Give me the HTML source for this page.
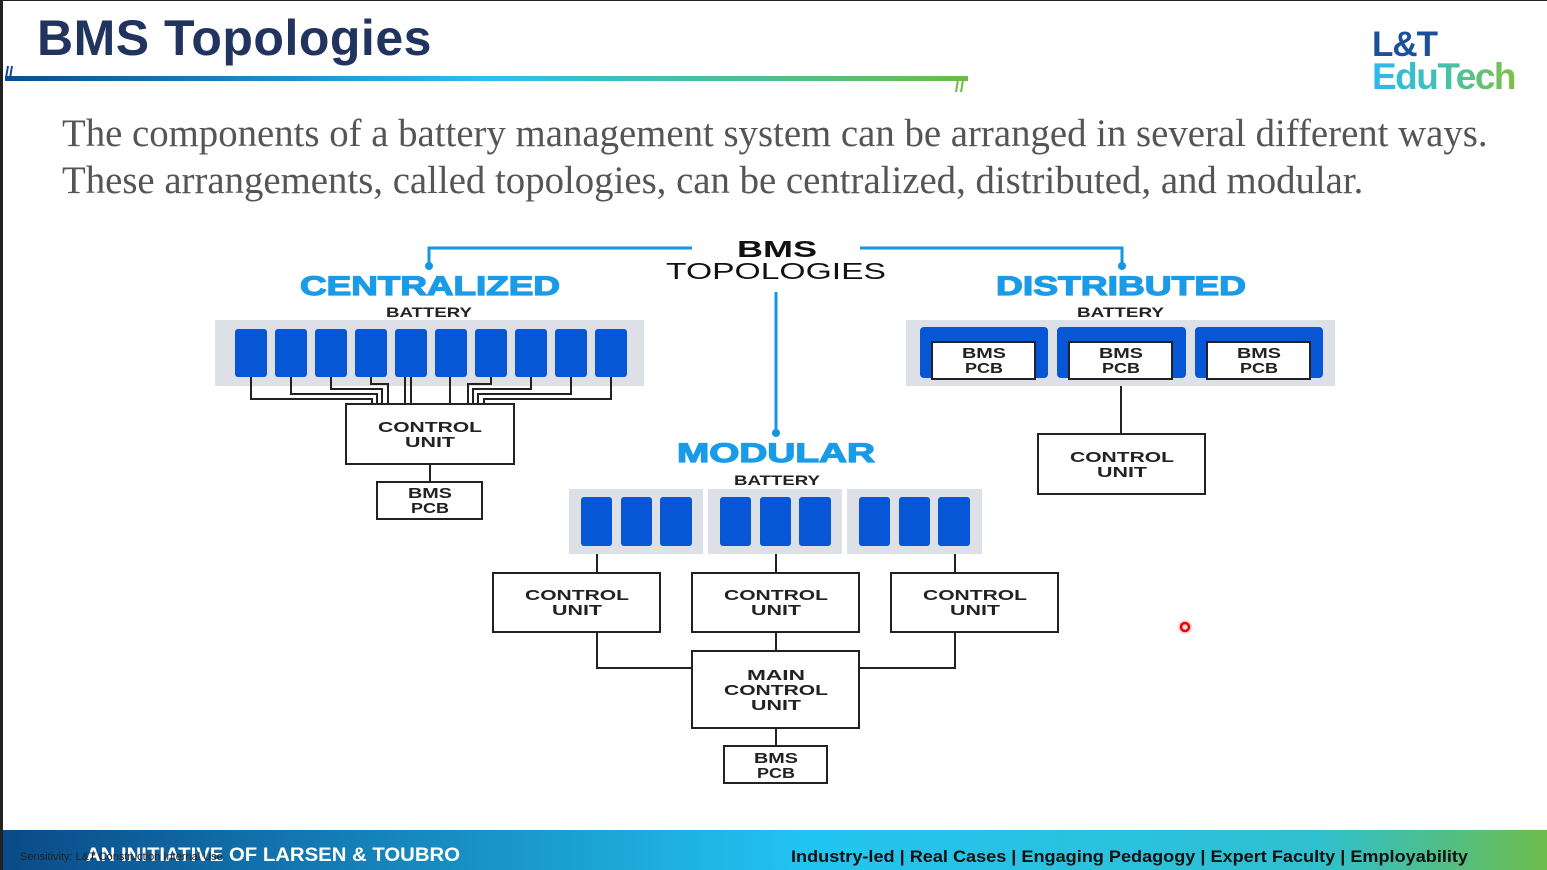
<!DOCTYPE html>
<html><head><meta charset="utf-8"><style>
html,body{margin:0;padding:0;background:#fff}
#p{position:relative;width:1547px;height:870px;overflow:hidden;background:#fff;border-left:3px solid #222;border-top:1px solid #222;box-sizing:border-box}
.t{position:absolute;white-space:nowrap}
</style></head><body><div id="p">
<div class="t" style="left:34px;top:8px;font:bold 50px 'Liberation Sans',sans-serif;color:#20345f;letter-spacing:0.5px">BMS Topologies</div>
<div class="t" style="left:1369px;top:24px;font:bold 35px 'Liberation Sans',sans-serif;color:#1c4f9c;letter-spacing:-1px">L&amp;T</div>
<div class="t" style="left:1369px;top:55px;font:bold 37px 'Liberation Sans',sans-serif;letter-spacing:-1.5px;background:linear-gradient(90deg,#2bb8ef,#42c2b0,#7cc242);-webkit-background-clip:text;background-clip:text;color:transparent">EduTech</div>
<div class="t" style="left:59px;top:109px;font:38.8px 'Liberation Serif',serif;color:#555;line-height:47px">The components of a battery management system can be arranged in several different ways.<br>These arrangements, called topologies, can be centralized, distributed, and modular.</div>
<svg width="1547" height="870" style="position:absolute;left:-3px;top:-1px" font-family="Liberation Sans,sans-serif">
<defs><linearGradient id="g" x1="0" x2="1"><stop offset="0" stop-color="#0b4d8c"/><stop offset=".5" stop-color="#28c2f0"/><stop offset="1" stop-color="#6dbb48"/></linearGradient>
<linearGradient id="f" x1="0" x2="1"><stop offset="0" stop-color="#0a4a88"/><stop offset=".52" stop-color="#22c4f2"/><stop offset=".85" stop-color="#2fc0d0"/><stop offset="1" stop-color="#6ebd4a"/></linearGradient></defs>
<rect x="5" y="76" width="963" height="5" fill="url(#g)"/>
<path d="M8 66 L6 78 M12 66 L10 78" stroke="#0b4d8c" stroke-width="2"/>
<path d="M958 80 L956 92 M963 80 L961 92" stroke="#6dbb48" stroke-width="2"/>
<g stroke="#1596e0" stroke-width="3" fill="none"><path d="M429 265 V248 H692 M860 248 H1122 V265 M776 292 V432"/></g>
<g fill="#1596e0"><circle cx="429" cy="266" r="4"/><circle cx="1122" cy="266" r="4"/><circle cx="776" cy="433" r="4"/></g>
<text x="737" y="257" textLength="80" lengthAdjust="spacingAndGlyphs" font-weight="bold" font-size="23" fill="#111">BMS</text>
<text x="666" y="279" textLength="220" lengthAdjust="spacingAndGlyphs" font-size="23" fill="#111">TOPOLOGIES</text>
<g font-weight="900" font-size="27" fill="#1a9be8" stroke="#1a9be8" stroke-width="1.2">
<text x="300" y="295" textLength="260" lengthAdjust="spacingAndGlyphs">CENTRALIZED</text>
<text x="677" y="462" textLength="198" lengthAdjust="spacingAndGlyphs">MODULAR</text>
<text x="996" y="295" textLength="250" lengthAdjust="spacingAndGlyphs">DISTRIBUTED</text></g>
<g font-size="14" font-weight="bold" fill="#222">
<text x="386" y="317" textLength="86" lengthAdjust="spacingAndGlyphs">BATTERY</text><text x="734" y="485" textLength="86" lengthAdjust="spacingAndGlyphs">BATTERY</text><text x="1077" y="317" textLength="87" lengthAdjust="spacingAndGlyphs">BATTERY</text></g>
<rect x="215" y="320" width="429" height="66" fill="#dde0e6"/>
<g fill="#0656d6">
<rect x="235" y="329" width="32" height="48" rx="3"/><rect x="275" y="329" width="32" height="48" rx="3"/><rect x="315" y="329" width="32" height="48" rx="3"/><rect x="355" y="329" width="32" height="48" rx="3"/><rect x="395" y="329" width="32" height="48" rx="3"/><rect x="435" y="329" width="32" height="48" rx="3"/><rect x="475" y="329" width="32" height="48" rx="3"/><rect x="515" y="329" width="32" height="48" rx="3"/><rect x="555" y="329" width="32" height="48" rx="3"/><rect x="595" y="329" width="32" height="48" rx="3"/></g>
<g stroke="#222" stroke-width="2" fill="none">
<path d="M251 377 V399 H372 V404 M291 377 V394 H377 V404 M331 377 V389 H382 V404 M371 377 V384 H388 V404 M405 377 V404 M411 377 V404 M450 377 V404 M491 377 V384 H468 V404 M531 377 V389 H473 V404 M571 377 V394 H478 V404 M611 377 V399 H484 V404"/>
<rect x="346" y="404" width="168" height="60"/><path d="M430 464 V482"/><rect x="377" y="482" width="105" height="37"/></g>
<g fill="#dde0e6"><rect x="569" y="489" width="134" height="65"/><rect x="708" y="489" width="134" height="65"/><rect x="847" y="489" width="135" height="65"/></g>
<g fill="#0656d6"><rect x="581" y="497" width="31" height="49" rx="3"/><rect x="621" y="497" width="31" height="49" rx="3"/><rect x="660" y="497" width="32" height="49" rx="3"/>
<rect x="720" y="497" width="31" height="49" rx="3"/><rect x="760" y="497" width="31" height="49" rx="3"/><rect x="799" y="497" width="32" height="49" rx="3"/>
<rect x="859" y="497" width="31" height="49" rx="3"/><rect x="899" y="497" width="31" height="49" rx="3"/><rect x="938" y="497" width="32" height="49" rx="3"/></g>
<g stroke="#222" stroke-width="2" fill="none">
<path d="M597 554 V573 M776 554 V573 M955 554 V573 M597 632 V668 H691 M955 632 V668 H859 M776 632 V651 M776 728 V746"/>
<rect x="493" y="573" width="167" height="59"/><rect x="692" y="573" width="167" height="59"/><rect x="891" y="573" width="167" height="59"/>
<rect x="692" y="651" width="167" height="77"/><rect x="724" y="746" width="103" height="37"/></g>
<rect x="906" y="320" width="429" height="66" fill="#dde0e6"/>
<g fill="#0656d6"><rect x="920" y="327" width="128" height="51" rx="4"/><rect x="1057" y="327" width="129" height="51" rx="4"/><rect x="1195" y="327" width="128" height="51" rx="4"/></g>
<g stroke="#222" stroke-width="2" fill="#fff"><rect x="932" y="342" width="103" height="37"/><rect x="1069" y="342" width="103" height="37"/><rect x="1207" y="342" width="103" height="37"/>
<path d="M1121 386 V434"/><rect x="1038" y="434" width="167" height="60"/></g>
<g font-size="15" font-weight="bold" fill="#222" text-anchor="middle">
<text x="430" y="432" textLength="104" lengthAdjust="spacingAndGlyphs">CONTROL</text><text x="430" y="447" textLength="50" lengthAdjust="spacingAndGlyphs">UNIT</text>
<text x="430" y="498" textLength="44" lengthAdjust="spacingAndGlyphs">BMS</text><text x="430" y="513" textLength="38" lengthAdjust="spacingAndGlyphs">PCB</text>
<text x="577" y="600" textLength="104" lengthAdjust="spacingAndGlyphs">CONTROL</text><text x="577" y="615" textLength="50" lengthAdjust="spacingAndGlyphs">UNIT</text>
<text x="776" y="600" textLength="104" lengthAdjust="spacingAndGlyphs">CONTROL</text><text x="776" y="615" textLength="50" lengthAdjust="spacingAndGlyphs">UNIT</text>
<text x="975" y="600" textLength="104" lengthAdjust="spacingAndGlyphs">CONTROL</text><text x="975" y="615" textLength="50" lengthAdjust="spacingAndGlyphs">UNIT</text>
<text x="776" y="680" textLength="58" lengthAdjust="spacingAndGlyphs">MAIN</text><text x="776" y="695" textLength="104" lengthAdjust="spacingAndGlyphs">CONTROL</text><text x="776" y="710" textLength="50" lengthAdjust="spacingAndGlyphs">UNIT</text>
<text x="776" y="763" textLength="44" lengthAdjust="spacingAndGlyphs">BMS</text><text x="776" y="778" textLength="38" lengthAdjust="spacingAndGlyphs">PCB</text>
<text x="984" y="358" textLength="44" lengthAdjust="spacingAndGlyphs">BMS</text><text x="984" y="373" textLength="38" lengthAdjust="spacingAndGlyphs">PCB</text>
<text x="1121" y="358" textLength="44" lengthAdjust="spacingAndGlyphs">BMS</text><text x="1121" y="373" textLength="38" lengthAdjust="spacingAndGlyphs">PCB</text>
<text x="1259" y="358" textLength="44" lengthAdjust="spacingAndGlyphs">BMS</text><text x="1259" y="373" textLength="38" lengthAdjust="spacingAndGlyphs">PCB</text>
<text x="1122" y="462" textLength="104" lengthAdjust="spacingAndGlyphs">CONTROL</text><text x="1122" y="477" textLength="50" lengthAdjust="spacingAndGlyphs">UNIT</text></g>
<circle cx="1185" cy="627" r="7" fill="#ffd6d6"/><circle cx="1185" cy="627" r="4" fill="none" stroke="#e00" stroke-width="2.5"/>
<rect x="3" y="830" width="1547" height="41" fill="url(#f)"/>
<text x="86" y="861" font-weight="bold" font-size="19" fill="#fff" textLength="374" lengthAdjust="spacingAndGlyphs">AN INITIATIVE OF LARSEN &amp; TOUBRO</text>
<text x="20" y="860" font-size="11" fill="#222">Sensitivity: L&amp;T Construction Internal Use</text>
<text x="791" y="862" font-weight="bold" font-size="17" fill="#111" textLength="677" lengthAdjust="spacingAndGlyphs">Industry-led | Real Cases | Engaging Pedagogy | Expert Faculty | Employability</text>
</svg>
</div></body></html>
